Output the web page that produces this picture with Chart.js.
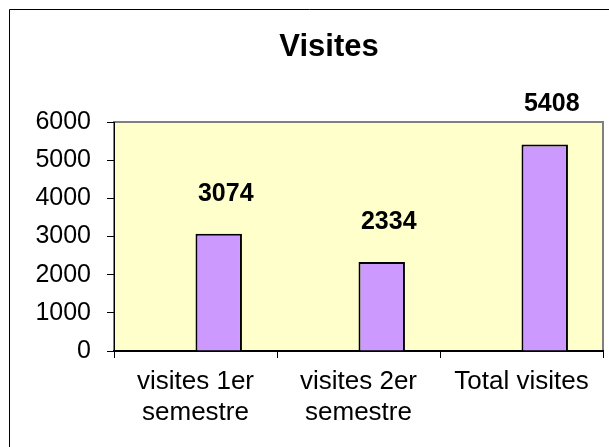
<!DOCTYPE html>
<html>
<head>
<meta charset="utf-8">
<script src="https://cdn.jsdelivr.net/npm/chart.js@4.4.0/dist/chart.umd.min.js"></script>
<style>
  html, body { margin: 0; padding: 0; background: #ffffff; }
  #wrap { width: 609px; height: 447px; position: relative; }
</style>
</head>
<body>
<div id="wrap"><canvas id="c" width="609" height="447"></canvas></div>
<script>
// ---- data ----
const chartTitle = 'Visites';
const categories = [['visites 1er', 'semestre'], ['visites 2er', 'semestre'], 'Total visites'];
const emptySeries = [null, null, null];
const visits = [3074, 2334, 5408];
const yTicks = [0, 1000, 2000, 3000, 4000, 5000, 6000];

const FONT = "'Liberation Sans', Arial, Helvetica, sans-serif";

const decor = {
  id: 'decor',
  beforeDraw(chart) {
    const ctx = chart.ctx;
    const a = chart.chartArea;
    ctx.save();
    ctx.fillStyle = '#ffffff';
    ctx.fillRect(0, 0, chart.width, chart.height);
    // outer chart frame (only top and left visible)
    ctx.strokeStyle = '#000000';
    ctx.lineWidth = 1;
    ctx.beginPath();
    ctx.moveTo(9.5, chart.height);
    ctx.lineTo(9.5, 9.5);
    ctx.lineTo(chart.width, 9.5);
    ctx.stroke();
    // plot area
    ctx.fillStyle = '#FFFFCC';
    ctx.fillRect(a.left, a.top, a.right - a.left, a.bottom - a.top);
    ctx.strokeStyle = '#808080';
    ctx.lineWidth = 2;
    ctx.strokeRect(a.left, a.top, a.right - a.left, a.bottom - a.top);
    ctx.restore();
  },
  afterDraw(chart) {
    const ctx = chart.ctx;
    ctx.save();
    ctx.fillStyle = '#000000';
    ctx.font = 'bold 31px ' + FONT;
    ctx.textAlign = 'center';
    ctx.textBaseline = 'middle';
    ctx.fillText(chartTitle, 329, 47);
    // data labels
    ctx.font = 'bold 25px ' + FONT;
    const meta = chart.getDatasetMeta(1);
    meta.data.forEach((bar, i) => {
      const v = chart.data.datasets[1].data[i];
      ctx.fillText(String(v), bar.x + 7, bar.y - 40);
    });
    ctx.restore();
  }
};

new Chart(document.getElementById('c'), {
  type: 'bar',
  data: {
    labels: categories,
    datasets: [
      { label: '', data: emptySeries, backgroundColor: '#CC99FF' },
      { label: 'Visites', data: visits, backgroundColor: '#CC99FF', borderColor: '#000000', borderWidth: 2 }
    ]
  },
  options: {
    responsive: false,
    animation: false,
    devicePixelRatio: 1,
    layout: { padding: { left: 34, right: 6, top: 122, bottom: 0 } },
    plugins: { legend: { display: false }, tooltip: { enabled: false }, title: { display: false } },
    datasets: { bar: { categoryPercentage: 0.57, barPercentage: 1.0 } },
    scales: {
      x: {
        grid: { display: true, drawOnChartArea: false, drawTicks: true, tickLength: 7, color: '#000000', lineWidth: 1, offset: true },
        border: { display: true, color: '#000000', width: 2 },
        ticks: { color: '#000000', font: { family: FONT, size: 26, lineHeight: 1.2 }, padding: 8, maxRotation: 0, autoSkip: false },
        afterFit(scale) { scale.height = 96; }
      },
      y: {
        min: 0, max: 6000,
        afterBuildTicks(scale) { scale.ticks = yTicks.map(v => ({ value: v })); },
        grid: { display: true, drawOnChartArea: false, drawTicks: true, tickLength: 7, color: '#000000', lineWidth: 1 },
        border: { display: true, color: '#000000', width: 1 },
        ticks: { color: '#000000', font: { family: FONT, size: 25 }, padding: 16, callback: (v) => String(v) },
        afterFit(scale) { scale.width = 80; }
      }
    }
  },
  plugins: [decor]
});
</script>
</body>
</html>
